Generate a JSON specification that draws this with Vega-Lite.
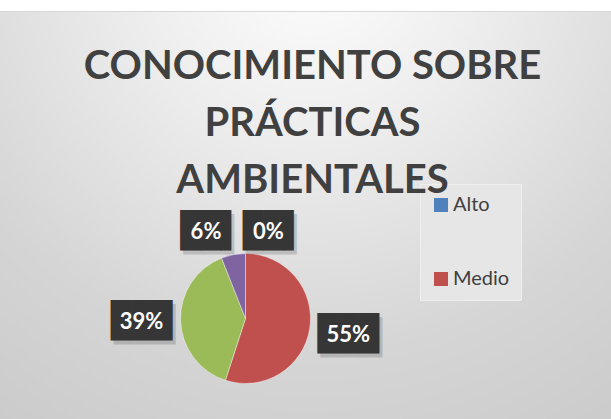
{
  "$schema": "https://vega.github.io/schema/vega-lite/v6.json",
  "autosize": {"type": "none"},
  "width": 731,
  "height": 615,
  "padding": {"left": -120, "top": 11, "right": 0, "bottom": -207},
  "background": "#ffffff",
  "view": {
    "fill": {
      "gradient": "radial",
      "x1": 0.588, "y1": 0.0, "r1": 0,
      "x2": 0.588, "y2": 0.0, "r2": 1,
      "stops": [
        {"offset": 0, "color": "#fefefe"},
        {"offset": 0.25, "color": "#ededed"},
        {"offset": 0.55, "color": "#d5d5d5"},
        {"offset": 0.85, "color": "#c7c7c7"},
        {"offset": 1, "color": "#c4c4c4"}
      ]
    },
    "stroke": "#d6d6d6",
    "strokeWidth": 1
  },
  "title": {
    "text": ["CONOCIMIENTO SOBRE", "PRÁCTICAS", "AMBIENTALES"],
    "orient": "top",
    "anchor": "middle",
    "font": "Lato",
    "fontSize": 40,
    "fontWeight": "bold",
    "color": "#404040",
    "lineHeight": 57,
    "offset": -190,
    "dx": 67
  },
  "data": {
    "values": [
      {"nivel": "Alto", "porcentaje": 0.0, "orden": 1},
      {"nivel": "Medio", "porcentaje": 0.55, "orden": 2},
      {"nivel": "Bajo", "porcentaje": 0.39, "orden": 3},
      {"nivel": "Nulo", "porcentaje": 0.06, "orden": 4}
    ]
  },
  "encoding": {
    "theta": {"field": "porcentaje", "type": "quantitative", "stack": true},
    "order": {"field": "orden", "type": "quantitative"},
    "color": {
      "field": "nivel",
      "type": "nominal",
      "scale": {
        "domain": ["Alto", "Medio", "Bajo", "Nulo"],
        "range": ["#4f81bd", "#c0504d", "#9bbb59", "#8064a2"]
      },
      "legend": {
        "title": null,
        "values": ["Alto", "Medio"],
        "orient": "none",
        "legendX": 540,
        "legendY": 173,
        "symbolType": "square",
        "symbolSize": 196,
        "symbolStrokeWidth": 0,
        "labelFont": "Lato",
        "labelFontSize": 20,
        "labelColor": "#404040",
        "labelOffset": 2,
        "rowPadding": 54,
        "padding": 11,
        "fillColor": "#e6e6e6",
        "strokeColor": "#eeeeee"
      }
    }
  },
  "layer": [
    {
      "mark": {"type": "arc", "radius": 65, "stroke": "#ffffff", "strokeWidth": 0.4}
    },
    {
      "mark": {"type": "text", "text": "███", "font": "DejaVu Sans Mono", "fontSize": 34, "radius": 104, "dx": 3, "dy": 4, "align": "center", "baseline": "middle"},
      "encoding": {
        "color": {"value": "#000000"},
        "opacity": {"condition": {"test": "datum.porcentaje >= 0.1", "value": 0.15}, "value": 0}
      }
    },
    {
      "mark": {"type": "text", "text": "███", "font": "DejaVu Sans Mono", "fontSize": 34, "radius": 104, "align": "center", "baseline": "middle"},
      "encoding": {
        "color": {"value": "#363636"},
        "opacity": {"condition": {"test": "datum.porcentaje >= 0.1", "value": 1}, "value": 0}
      }
    },
    {
      "mark": {"type": "text", "font": "Lato", "fontWeight": "bold", "fontSize": 22, "radius": 104, "align": "center", "baseline": "middle"},
      "encoding": {
        "text": {"field": "porcentaje", "type": "quantitative", "format": ".0%"},
        "color": {"value": "#ffffff"},
        "opacity": {"condition": {"test": "datum.porcentaje >= 0.1", "value": 1}, "value": 0}
      }
    },
    {
      "mark": {"type": "text", "text": "██▌", "font": "DejaVu Sans Mono", "fontSize": 34, "radius": 88, "dx": 31, "dy": 5.5, "align": "center", "baseline": "middle"},
      "encoding": {
        "color": {"value": "#000000"},
        "opacity": {"condition": {"test": "datum.nivel == 'Alto'", "value": 0.15}, "value": 0}
      }
    },
    {
      "mark": {"type": "text", "text": "██▌", "font": "DejaVu Sans Mono", "fontSize": 34, "radius": 88, "dx": 28, "dy": 1.5, "align": "center", "baseline": "middle"},
      "encoding": {
        "color": {"value": "#363636"},
        "opacity": {"condition": {"test": "datum.nivel == 'Alto'", "value": 1}, "value": 0}
      }
    },
    {
      "mark": {"type": "text", "font": "Lato", "fontWeight": "bold", "fontSize": 22, "radius": 88, "dx": 23, "dy": 1.5, "align": "center", "baseline": "middle"},
      "encoding": {
        "text": {"field": "porcentaje", "type": "quantitative", "format": ".0%"},
        "color": {"value": "#ffffff"},
        "opacity": {"condition": {"test": "datum.nivel == 'Alto'", "value": 1}, "value": 0}
      }
    },
    {
      "mark": {"type": "text", "text": "██▌", "font": "DejaVu Sans Mono", "fontSize": 34, "radius": 88, "dx": -15, "dy": 4, "align": "center", "baseline": "middle"},
      "encoding": {
        "color": {"value": "#000000"},
        "opacity": {"condition": {"test": "datum.nivel == 'Nulo'", "value": 0.15}, "value": 0}
      }
    },
    {
      "mark": {"type": "text", "text": "██▌", "font": "DejaVu Sans Mono", "fontSize": 34, "radius": 88, "dx": -18, "align": "center", "baseline": "middle"},
      "encoding": {
        "color": {"value": "#363636"},
        "opacity": {"condition": {"test": "datum.nivel == 'Nulo'", "value": 1}, "value": 0}
      }
    },
    {
      "mark": {"type": "text", "font": "Lato", "fontWeight": "bold", "fontSize": 22, "radius": 88, "dx": -23, "align": "center", "baseline": "middle"},
      "encoding": {
        "text": {"field": "porcentaje", "type": "quantitative", "format": ".0%"},
        "color": {"value": "#ffffff"},
        "opacity": {"condition": {"test": "datum.nivel == 'Nulo'", "value": 1}, "value": 0}
      }
    }
  ]
}
